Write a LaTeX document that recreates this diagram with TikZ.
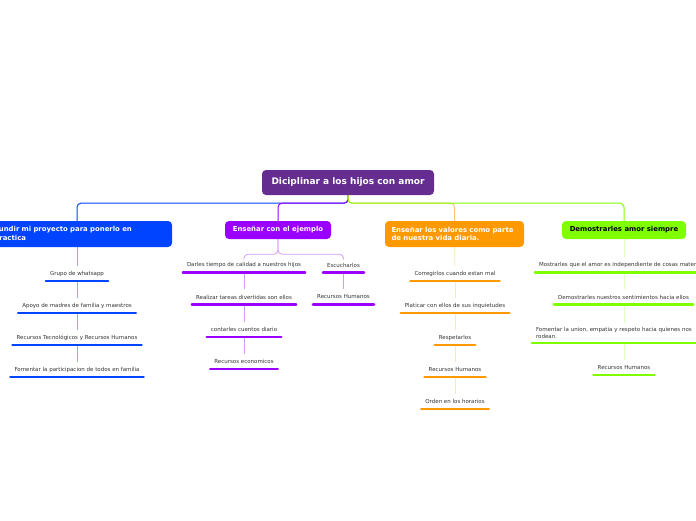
\documentclass[tikz,border=0pt]{standalone}
\usepackage{fontspec}
\setmainfont{DejaVu Sans}
\definecolor{rootpurple}{RGB}{102,45,145}
\definecolor{mapblue}{RGB}{0,68,255}
\definecolor{mappurple}{RGB}{153,0,255}
\definecolor{maporange}{RGB}{255,153,0}
\definecolor{mapgreen}{RGB}{128,255,0}
\definecolor{leaftext}{RGB}{51,51,51}
\usetikzlibrary{positioning, calc, backgrounds}

\begin{document}
\begin{tikzpicture}[x=1pt, y=-1pt,
  topic/.style={fill=#1, rounded corners=4pt, text=white, font=\fontsize{6.9}{8.2}\selectfont\bfseries, inner xsep=6.5pt},
  leaf/.style={font=\fontsize{5.5}{6.3}\selectfont, text=leaftext, minimum height=15pt, inner xsep=4pt, inner ysep=0pt,
    append after command={(\tikzlastnode.south west) edge[draw=#1, line width=2.5pt, line cap=round] (\tikzlastnode.south east)}},
  trunk/.style={draw=#1, line width=1pt, rounded corners=4pt},
  twig/.style={draw=#1, line width=0.8pt, rounded corners=4pt}]
  \useasboundingbox (0,0) rectangle (696,520);

  % central topic
  \node[fill=rootpurple, rounded corners=4pt, text=white, font=\fontsize{9}{11}\selectfont\bfseries, minimum width=172pt, minimum height=25pt] (root) at (348,182.5) {Diciplinar a los hijos con amor};

  % main branches
  \node[topic=mapblue, text width=171pt, align=left, minimum height=26pt] (fundir) at (80,234) {Fundir mi proyecto para ponerlo en\\practica};
  \node[topic=mappurple, minimum width=106pt, minimum height=18pt] (ejemplo) at (278,230) {Enseñar con el ejemplo};
  \node[topic=maporange, text width=126pt, align=left, minimum height=26pt] (valores) at (454.5,234) {Enseñar los valores como parte\\de nuestra vida diaria.};
  \node[topic=mapgreen, text=black, minimum width=124pt, minimum height=18pt] (amor) at (624,230) {Demostrarles amor siempre};

  % blue branch
  \node[leaf=mapblue] (grupo) at (77,273.5) {Grupo de whatsapp};
  \node[leaf=mapblue] (apoyo) at (77,305.5) {Apoyo de madres de familia y maestros};
  \node[leaf=mapblue] (tecno) at (77,337.5) {Recursos Tecnológicos y Recursos Humanos};
  \node[leaf=mapblue] (participa) at (77,369.5) {Fomentar la participacion de  todos en familia};

  % purple branch
  \node[leaf=mappurple] (calidad) at (244,265) {Darles tiempo de calidad a nuestros hijos};
  \node[leaf=mappurple] (tareas) at (244,297) {Realizar tareas divertidas son ellos};
  \node[leaf=mappurple] (cuentos) at (244,329.5) {contarles cuentos diario};
  \node[leaf=mappurple] (economicos) at (244,361.5) {Recursos economicos};
  \node[leaf=mappurple] (escuchar) at (343.5,265) {Escucharlos};
  \node[leaf=mappurple] (humanosB) at (343.5,297) {Recursos Humanos};

  % orange branch
  \node[leaf=maporange] (corregir) at (455,273.5) {Corregirlos cuando estan mal};
  \node[leaf=maporange] (platicar) at (455,305.5) {Platicar con ellos de sus inquietudes};
  \node[leaf=maporange] (respetar) at (455,337.5) {Respetarlos};
  \node[leaf=maporange] (humanosC) at (455,369.5) {Recursos Humanos};
  \node[leaf=maporange] (horarios) at (455,401.5) {Orden en los horarios};

  % green branch
  \node[leaf=mapgreen] (mostrar) at (624,265) {Mostrarles que el amor es independiente de cosas materiales};
  \node[leaf=mapgreen] (sentimientos) at (623.5,297) {Demostrarles nuestros sentimientos hacia ellos};
  \node[leaf=mapgreen, text width=176pt, align=left, minimum height=20pt] (union) at (624,333) {Fomentar la union, empatia y respeto hacia quienes nos\\rodean.};
  \node[leaf=mapgreen] (humanosD) at (624,367.5) {Recursos Humanos};

  \begin{scope}[on background layer]
    % from the central topic
    \draw[trunk=mapblue] (root.south) -- ++(0,8) -| (fundir.north -| grupo);
    \draw[trunk=mappurple] (root.south) -- ++(0,8) -| (ejemplo.north);
    \draw[trunk=maporange!55] (root.south) -- ++(0,8) -| (valores.north);
    \draw[trunk=mapgreen] (root.south) -- ++(0,8) -| (amor.north);

    % subtopics
    \draw[twig=mapblue!45] (fundir.south -| grupo) -- (grupo.north);
    \foreach \a/\b in {grupo/apoyo, apoyo/tecno, tecno/participa}
      \draw[twig=mapblue!45] (\a.south) -- (\b.north);

    \draw[twig=mappurple!40] (ejemplo.south) -- ++(0,15) -| (calidad.north);
    \draw[twig=mappurple!40] (ejemplo.south) -- ++(0,15) -| (escuchar.north);
    \foreach \a/\b in {calidad/tareas, tareas/cuentos, cuentos/economicos, escuchar/humanosB}
      \draw[twig=mappurple!40] (\a.south) -- (\b.north);

    \draw[twig=maporange!25] (valores.south) -- (corregir.north);
    \foreach \a/\b in {corregir/platicar, platicar/respetar, respetar/humanosC, humanosC/horarios}
      \draw[twig=maporange!25] (\a.south) -- (\b.north);

    \draw[twig=mapgreen!25] (amor.south) -- (mostrar.north);
    \foreach \a/\b in {mostrar/sentimientos, sentimientos/union, union/humanosD}
      \draw[twig=mapgreen!25] (\a.south -| amor) -- (\b.north -| amor);
  \end{scope}
\end{tikzpicture}
\end{document}
